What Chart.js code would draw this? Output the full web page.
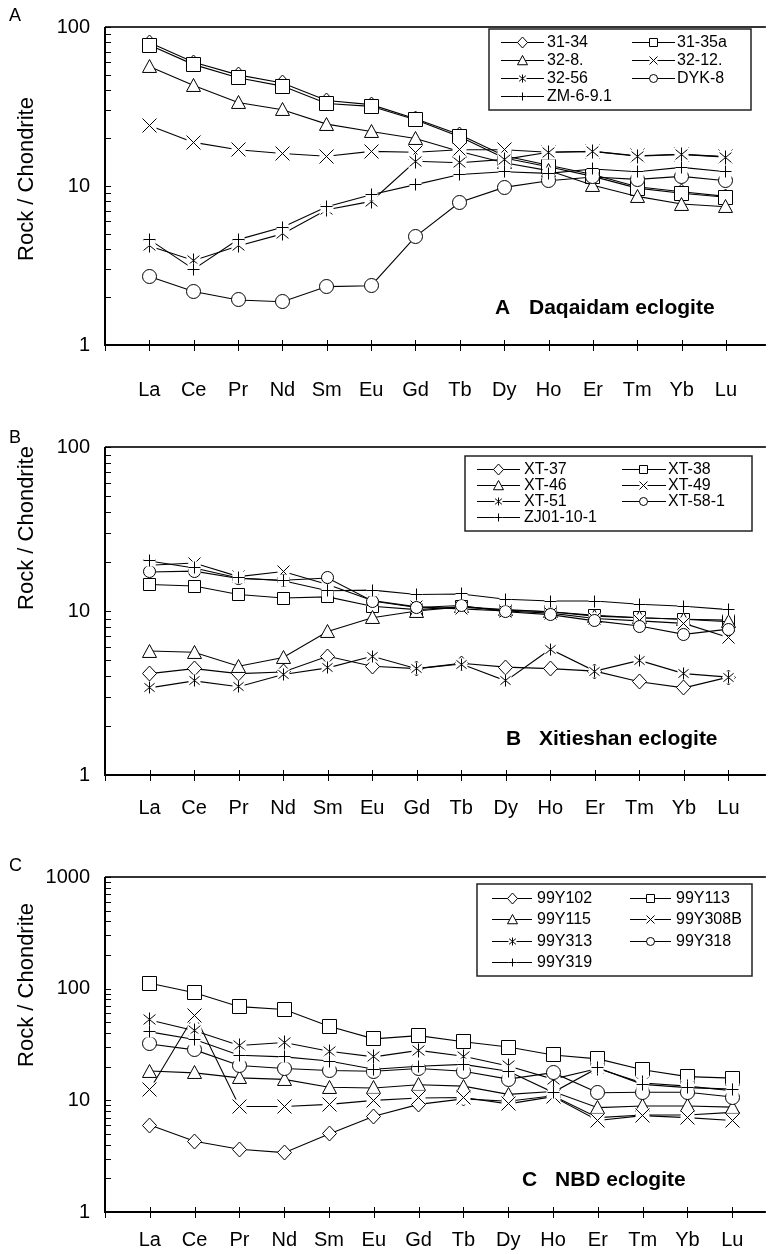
<!DOCTYPE html>
<html><head><meta charset="utf-8">
<script src="https://cdn.jsdelivr.net/npm/chart.js@4/dist/chart.umd.min.js"></script>
<style>
html,body{margin:0;padding:0;background:#fff;}
body{width:773px;height:1254px;position:relative;overflow:hidden;}
canvas{position:absolute;left:0;}
</style></head><body>
<canvas id="cA" width="773" height="420" style="top:0px"></canvas>
<canvas id="cB" width="773" height="430" style="top:420px"></canvas>
<canvas id="cC" width="773" height="404" style="top:850px"></canvas>
<script>
// ---------- DATA ----------
const elements = ['La','Ce','Pr','Nd','Sm','Eu','Gd','Tb','Dy','Ho','Er','Tm','Yb','Lu'];

// Panel A – Daqaidam eclogite
const namesA = ['31-34','31-35a','32-8.','32-12.','32-56','DYK-8','ZM-6-9.1'];
const a_31_34  = [80, 60, 50, 44.5, 34.5, 32.5, 26.5, 21, 15.5, 13.5, 11.8, 9.9, 9.2, 8.6];
const a_31_35a = [77, 58, 48, 42.5, 33, 31.7, 26.1, 20.4, 15, 13.2, 11.5, 9.7, 9.0, 8.5];
const a_32_8   = [56.5, 42.8, 33.5, 30.2, 24.5, 22, 19.9, 16.5, 14, 12.5, 10.1, 8.6, 7.7, 7.4];
const a_32_12  = [24, 18.8, 16.9, 16.0, 15.4, 16.5, 16.3, 16.9, 16.9, 16.3, 16.5, 15.5, 15.8, 15.3];
const a_32_56  = [4.2, 3.4, 4.2, 5.0, 7.1, 8.0, 14.3, 14.0, 14.7, 16.3, 16.5, 15.4, 15.8, 15.2];
const a_DYK8   = [2.7, 2.17, 1.92, 1.87, 2.33, 2.36, 4.8, 7.9, 9.8, 10.8, 11.4, 11.0, 11.5, 10.8];
const a_ZM691  = [4.6, 3.0, 4.6, 5.5, 7.4, 8.8, 10.2, 11.8, 12.3, 12.0, 12.8, 12.3, 13.1, 12.3];
const yTicksA  = [1, 10, 100];

// Panel B – Xitieshan eclogite
const namesB = ['XT-37','XT-38','XT-46','XT-49','XT-51','XT-58-1','ZJ01-10-1'];
const b_XT37   = [4.15, 4.45, 4.15, 4.25, 5.3, 4.6, 4.45, 4.8, 4.55, 4.45, 4.3, 3.7, 3.4, 3.95];
const b_XT38   = [14.5, 14.2, 12.6, 12.0, 12.2, 10.7, 10.2, 10.6, 10.1, 9.9, 9.4, 9.1, 8.9, 8.8];
const b_XT46   = [5.7, 5.6, 4.6, 5.2, 7.5, 9.1, 10.0, 10.6, 10.2, 9.9, 9.3, 9.1, 8.9, 8.6];
const b_XT49   = [19, 19.6, 16.2, 17.4, 14.5, 11.6, 10.6, 10.3, 10.0, 9.7, 9.0, 8.7, 8.4, 6.9];
const b_XT51   = [3.4, 3.75, 3.45, 4.1, 4.5, 5.3, 4.45, 4.75, 3.75, 5.85, 4.3, 5.0, 4.15, 3.95];
const b_XT581  = [17.3, 17.5, 15.8, 15.4, 15.9, 11.5, 10.5, 10.8, 9.9, 9.5, 8.7, 8.1, 7.2, 7.75];
const b_ZJ0110 = [20.2, 18.3, 15.9, 15.3, 13.3, 13.4, 12.6, 12.7, 11.8, 11.5, 11.5, 11.0, 10.7, 10.2];
const yTicksB  = [1, 10, 100];

// Panel C – NBD eclogite
const namesC = ['99Y102','99Y113','99Y115','99Y308B','99Y313','99Y318','99Y319'];
const c_99Y102  = [6.0, 4.3, 3.65, 3.4, 5.0, 7.2, 9.2, 10.3, 9.8, 11.0, 7.0, 7.4, 7.4, 7.8];
const c_99Y113  = [112, 92, 69, 65, 46, 35.5, 38, 33.5, 30, 25.5, 23.5, 18.8, 16.3, 15.8];
const c_99Y115  = [18.3, 17.6, 15.9, 15.4, 13.1, 12.9, 13.8, 13.4, 11.3, 12.0, 8.6, 8.9, 8.9, 8.7];
const c_99Y308B = [12.5, 58, 8.8, 8.8, 9.2, 10.0, 10.5, 10.6, 9.3, 10.8, 6.6, 7.3, 7.0, 6.6];
const c_99Y313  = [52.5, 42, 31, 33, 27.5, 24.5, 28, 24.8, 20.3, 15.5, 19.3, 14.3, 13.4, 12.2];
const c_99Y318  = [32, 28.3, 20.5, 19.3, 18.5, 18.2, 19.3, 18.2, 15.5, 17.7, 11.7, 11.8, 11.8, 10.7];
const c_99Y319  = [41, 35, 25.3, 24.5, 22.5, 19.0, 20.2, 21.0, 18.2, 11.8, 19.5, 13.9, 13.0, 12.6];
const yTicksC  = [1, 10, 100, 1000];

// ---------- STYLE ----------
const FONT = 'Arial, "Liberation Sans", sans-serif';
Chart.defaults.font.family = FONT;
Chart.defaults.color = '#000';
const markerTypes = ['diamond','square','triangle','x','star','circle','plus'];
const markerScale = {diamond:1.05, square:0.95, triangle:1.05, x:0.95, star:0.95, circle:0.95, plus:0.9};

function makeMarker(type, s, bg) {
  s = Math.max(4, 2 * Math.round(s / 2));
  const n = s + 5;
  const c = document.createElement('canvas');
  c.width = n; c.height = n;
  const g = c.getContext('2d');
  const m = n / 2, r = s / 2;
  g.strokeStyle = '#000'; g.fillStyle = '#fff'; g.lineWidth = 1;
  if (bg && (type === 'plus' || type === 'x' || type === 'star')) {
    g.fillRect(m - r, m - r, 2 * r, 2 * r);
  }
  g.beginPath();
  switch (type) {
    case 'diamond':
      g.moveTo(m, m - r - 0.5); g.lineTo(m + r, m); g.lineTo(m, m + r + 0.5); g.lineTo(m - r, m); g.closePath();
      g.fill(); g.stroke(); break;
    case 'square':
      g.rect(m - r, m - r, 2 * r, 2 * r); g.fill(); g.stroke(); break;
    case 'triangle':
      g.moveTo(m, m - r); g.lineTo(m + r, m + r * 0.85); g.lineTo(m - r, m + r * 0.85); g.closePath();
      g.fill(); g.stroke(); break;
    case 'circle':
      g.arc(m, m, r, 0, Math.PI * 2); g.fill(); g.stroke(); break;
    case 'x':
      g.moveTo(m - r, m - r); g.lineTo(m + r, m + r); g.moveTo(m + r, m - r); g.lineTo(m - r, m + r); g.stroke(); break;
    case 'plus':
      g.moveTo(m - r, m); g.lineTo(m + r, m); g.moveTo(m, m - r); g.lineTo(m, m + r); g.stroke(); break;
    case 'star':
      g.moveTo(m, m - r); g.lineTo(m, m + r);
      g.moveTo(m - r * 0.85, m - r * 0.7); g.lineTo(m + r * 0.85, m + r * 0.7);
      g.moveTo(m + r * 0.85, m - r * 0.7); g.lineTo(m - r * 0.85, m + r * 0.7);
      g.stroke(); break;
  }
  return c;
}

const decor = {
  id: 'decor',
  beforeDatasetsDraw(chart) { chart.ctx.imageSmoothingEnabled = false; },
  afterDatasetsDraw(chart) { chart.ctx.imageSmoothingEnabled = true; },
  afterDraw(chart, args, o) {
    const ctx = chart.ctx, a = chart.chartArea, x = chart.scales.x, y = chart.scales.y;
    ctx.save();
    ctx.strokeStyle = '#333'; ctx.lineWidth = 2;
    ctx.beginPath(); ctx.moveTo(a.left, a.top); ctx.lineTo(a.right, a.top); ctx.stroke();
    ctx.strokeStyle = '#000'; ctx.lineWidth = 2;
    ctx.beginPath(); ctx.moveTo(a.left, a.top); ctx.lineTo(a.left, a.bottom); ctx.lineTo(a.right, a.bottom); ctx.stroke();
    ctx.lineWidth = 1;
    ctx.beginPath();
    for (let i = 0; i <= elements.length; i++) {
      const px = Math.round(x.getPixelForValue(i)) + 0.5;
      ctx.moveTo(px, a.bottom - 5); ctx.lineTo(px, a.bottom + 6);
    }
    ctx.stroke();
    ctx.beginPath();
    y.ticks.forEach(t => {
      const py = Math.round(y.getPixelForValue(t.value)) + 0.5;
      ctx.moveTo(a.left, py); ctx.lineTo(a.left + 6, py);
    });
    ctx.stroke();
    ctx.fillStyle = '#000';
    ctx.font = '18px ' + FONT; ctx.textAlign = 'left'; ctx.textBaseline = 'middle';
    ctx.fillText(o.letter, o.letterPos[0], o.letterPos[1]);
    ctx.save();
    ctx.translate(o.ytPos[0], o.ytPos[1]); ctx.rotate(-Math.PI / 2);
    ctx.font = '22px ' + FONT; ctx.textAlign = 'center'; ctx.textBaseline = 'middle';
    ctx.fillText('Rock / Chondrite', 0, 0);
    ctx.restore();
    ctx.font = 'bold 21px ' + FONT; ctx.textAlign = 'left'; ctx.textBaseline = 'middle';
    ctx.fillText(o.letter, o.titlePos[0], o.titlePos[2]);
    ctx.fillText(o.title, o.titlePos[1], o.titlePos[2]);
    const L = o.legend;
    ctx.fillStyle = '#fff';
    ctx.fillRect(L.box[0], L.box[1], L.box[2], L.box[3]);
    ctx.strokeStyle = '#222'; ctx.lineWidth = 1.5;
    ctx.strokeRect(L.box[0], L.box[1], L.box[2], L.box[3]);
    ctx.font = '16px ' + FONT; ctx.textBaseline = 'middle'; ctx.fillStyle = '#000';
    chart.data.datasets.forEach((ds, i) => {
      const col = L.cols[i % 2];
      const yy = Math.round(L.y0 + Math.floor(i / 2) * L.dy) + 0.5;
      ctx.strokeStyle = '#000'; ctx.lineWidth = 1;
      ctx.beginPath(); ctx.moveTo(col[0], yy); ctx.lineTo(col[1], yy); ctx.stroke();
      const img = o.legendMarkers[i];
      ctx.drawImage(img, Math.round(col[2] - img.width / 2), Math.round(yy - img.height / 2));
      ctx.fillText(ds.label, col[3], yy);
    });
    ctx.restore();
  }
};

function makeChart(id, names, series, yTicks, cfg) {
  const pointImgs = markerTypes.map(t => makeMarker(t, cfg.mk * markerScale[t], true));
  const legendImgs = markerTypes.map(t => makeMarker(t, 9 * markerScale[t], true));
  return new Chart(document.getElementById(id), {
    type: 'line',
    data: {
      datasets: names.map((name, i) => ({
        label: name,
        data: series[i].map((v, j) => ({ x: j + 1, y: v })),
        borderColor: '#000', borderWidth: 1.1, tension: 0, fill: false,
        pointStyle: pointImgs[i], pointRadius: 6, pointHoverRadius: 6,
        order: names.length - i
      }))
    },
    options: {
      responsive: false, animation: false, events: [], devicePixelRatio: 1,
      layout: { padding: { top: cfg.top, left: 0, right: 0, bottom: 0 } },
      plugins: {
        legend: { display: false }, tooltip: { enabled: false },
        decor: Object.assign({ legendMarkers: legendImgs }, cfg.decor)
      },
      scales: {
        x: {
          type: 'linear', min: 0, max: cfg.xmax,
          grid: { display: false, drawTicks: false }, border: { display: false },
          afterBuildTicks: s => { s.ticks = elements.map((e, i) => ({ value: i + 1 })); },
          afterFit: s => { s.height = cfg.H - cfg.bottom; },
          ticks: {
            autoSkip: false, maxRotation: 0, padding: cfg.xPad, color: '#000',
            font: { size: 20, family: FONT },
            callback: v => elements[v - 1] || ''
          }
        },
        y: {
          type: 'logarithmic', min: yTicks[0], max: yTicks[yTicks.length - 1],
          grid: { display: false, drawTicks: false }, border: { display: false },
          afterBuildTicks: s => {
            const t = [];
            for (let d = yTicks[0]; d < yTicks[yTicks.length - 1]; d *= 10)
              for (let k = 1; k < 10; k++) t.push({ value: d * k });
            t.push({ value: yTicks[yTicks.length - 1] });
            s.ticks = t;
          },
          afterFit: s => { s.width = 105; },
          ticks: {
            autoSkip: false, padding: 15, color: '#000',
            font: { size: 20, family: FONT },
            callback: v => (yTicks.indexOf(v) >= 0 ? String(v) : '')
          }
        }
      }
    },
    plugins: [decor]
  });
}

makeChart('cA', namesA, [a_31_34, a_31_35a, a_32_8, a_32_12, a_32_56, a_DYK8, a_ZM691], yTicksA, {
  top: 14, bottom: 345, H: 420, xmax: 14.9, xPad: 33, mk: 14,
  decor: {
    letter: 'A', title: 'Daqaidam eclogite', letterPos: [9, 16], ytPos: [27, 179], titlePos: [495, 529, 308],
    legend: { box: [489, 29, 262, 81], y0: 42, dy: 18, cols: [[501, 544, 522, 547], [632, 675, 653, 677]] }
  }
});
makeChart('cB', namesB, [b_XT37, b_XT38, b_XT46, b_XT49, b_XT51, b_XT581, b_ZJ0110], yTicksB, {
  top: 25, bottom: 355, H: 430, xmax: 14.84, xPad: 21, mk: 13,
  decor: {
    letter: 'B', title: 'Xitieshan eclogite', letterPos: [9, 18], ytPos: [27, 108], titlePos: [506, 539, 319],
    legend: { box: [465, 36, 287, 75], y0: 49, dy: 16, cols: [[477, 520, 498, 524], [622, 666, 643, 668]] }
  }
});
makeChart('cC', namesC, [c_99Y102, c_99Y113, c_99Y115, c_99Y308B, c_99Y313, c_99Y318, c_99Y319], yTicksC, {
  top: 22, bottom: 362, H: 404, xmax: 14.75, xPad: 16, mk: 14,
  decor: {
    letter: 'C', title: 'NBD eclogite', letterPos: [9, 16], ytPos: [27, 135], titlePos: [522, 555, 330],
    legend: { box: [477, 34, 275, 92], y0: 48, dy: 21.3, cols: [[492, 532, 512, 537], [630, 671, 650, 676]] }
  }
});
</script>
</body></html>
